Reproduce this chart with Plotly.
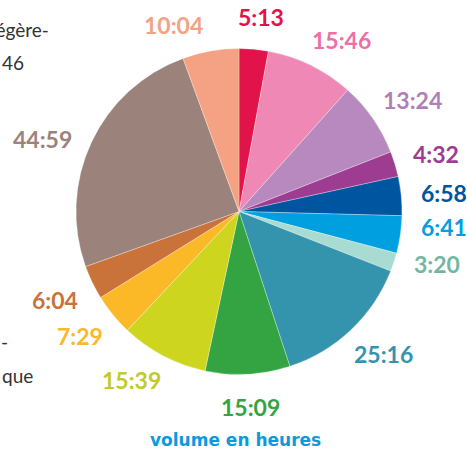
import math
import plotly.graph_objects as go

# Data (volume in hours:minutes), clockwise from 12 o'clock
labels = ["5:13", "15:46", "13:24", "4:32", "6:58", "6:41", "3:20",
          "25:16", "15:09", "15:39", "7:29", "6:04", "44:59", "10:04"]
slice_colors = ["#E2134A", "#F088B6", "#B889BF", "#9E3C92", "#0055A0", "#009FE0", "#A8DCD3",
                "#3594AD", "#34A443", "#CDD51F", "#FBB827", "#C9733A", "#9B827A", "#F4A283"]
label_colors = ["#E2134A", "#EE6FA7", "#B07FB8", "#9E3C92", "#0055A0", "#009FE0", "#73B7A3",
                "#3594AD", "#34A443", "#C2C92A", "#FBB827", "#C9733A", "#9B827A", "#F4A283"]
# small angular spreading of the labels (degrees), purely stylistic
label_nudge_deg = [1, 3, 0, 0, 0, -3.5, -2.5, 0, 0, 3, 0, -1, -3.5, -8]
caption = "volume en heures"


def to_minutes(s):
    h, m = s.split(":")
    return int(h) * 60 + int(m)


values = [to_minutes(s) for s in labels]

W, H = 467, 450
dom_x = [76 / W, 402 / W]
dom_y = [1 - 375 / H, 1 - 48 / H]

fig = go.Figure(go.Pie(
    values=values,
    labels=labels,
    sort=False,
    direction="clockwise",
    rotation=0,
    textinfo="none",
    hoverinfo="label",
    marker=dict(colors=slice_colors, line=dict(color="rgba(255,255,255,0.6)", width=0.5)),
    domain=dict(x=dom_x, y=dom_y),
    showlegend=False,
))

# label placement derived from the pie geometry
cx = (dom_x[0] + dom_x[1]) / 2 * W
cy = (1 - (dom_y[0] + dom_y[1]) / 2) * H
R = min((dom_x[1] - dom_x[0]) * W, (dom_y[1] - dom_y[0]) * H) / 2
gap = 23
total = sum(values)
cum = 0
annotations = []
for lab, v, col, nd in zip(labels, values, label_colors, label_nudge_deg):
    mid = (cum + v / 2) / total * 2 * math.pi + math.radians(nd)
    cum += v
    s, c = math.sin(mid), math.cos(mid)
    halfw = 5.0 * len(lab)
    px = cx + (R + gap) * s + halfw * s
    py = cy - (R + gap) * c - 10 * c
    annotations.append(dict(
        x=px / W, y=1 - py / H, xref="paper", yref="paper",
        text="<b>" + lab + "</b>", showarrow=False,
        xanchor="center", yanchor="middle",
        font=dict(family="Lato", size=23, color=col),
    ))

annotations.append(dict(
    x=235 / W, y=1 - 440 / H, xref="paper", yref="paper",
    text="<b>" + caption + "</b>", showarrow=False,
    xanchor="center", yanchor="middle",
    font=dict(family="DejaVu Sans", size=17, color="#0A9BDC"),
))

# fragments of neighbouring text at the left edge
side_texts = [("légère-", 51, 30, "right"), ("46", 0, 62, "left"),
              ("-", -1, 341, "left"), ("que", 0, 375, "left")]
for t, x, y, anc in side_texts:
    annotations.append(dict(
        x=x / W, y=1 - y / H, xref="paper", yref="paper",
        text=t, showarrow=False, xanchor=anc, yanchor="middle",
        font=dict(family="Lato", size=19, color="#333333"),
    ))

fig.update_layout(
    width=W, height=H,
    margin=dict(l=0, r=0, t=0, b=0),
    paper_bgcolor="white",
    plot_bgcolor="white",
    annotations=annotations,
)

fig.write_html("out.html",
               config={"displayModeBar": False},
               post_script="document.body.style.margin='0';document.body.style.overflow='hidden';")
